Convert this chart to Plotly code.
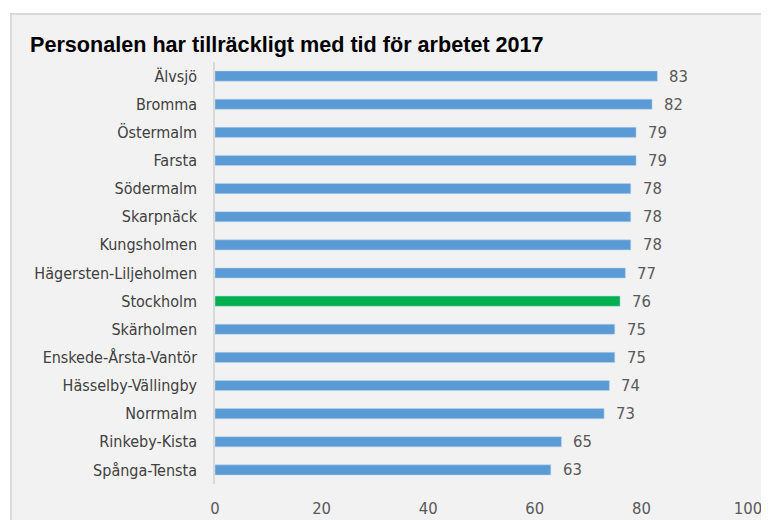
import plotly.graph_objects as go

categories = ["Älvsjö", "Bromma", "Östermalm", "Farsta", "Södermalm", "Skarpnäck",
              "Kungsholmen", "Hägersten-Liljeholmen", "Stockholm", "Skärholmen",
              "Enskede-Årsta-Vantör", "Hässelby-Vällingby", "Norrmalm", "Rinkeby-Kista",
              "Spånga-Tensta"]
values = [83, 82, 79, 79, 78, 78, 78, 77, 76, 75, 75, 74, 73, 65, 63]
highlight = "Stockholm"
x_ticks = [0, 20, 40, 60, 80, 100]
title = "Personalen har tillräckligt med tid för arbetet 2017"

FONT = "DejaVu Sans Condensed, Liberation Sans Narrow, sans-serif"
TFONT = "Liberation Sans, Arial, sans-serif"
colors = ["#00B050" if c == highlight else "#5B9BD5" for c in categories]

W, H = 761, 512
L, R, T, B = 207, 21, 54, 36
pw, ph = W - L - R, H - T - B

fig = go.Figure()
fig.add_trace(go.Bar(
    y=categories, x=values, orientation="h",
    marker=dict(color=colors, line=dict(color="#BDD7EE", width=0.5)),
    width=0.36, hoverinfo="skip",
))
for c, v in zip(categories, values):
    fig.add_annotation(x=v, y=c, text=str(v), showarrow=False, xanchor="left",
                       xshift=10, font=dict(family=FONT, size=16.5, color="#595959"))

fig.add_shape(type="rect", xref="paper", yref="paper",
              x0=(3 - L) / pw, x1=1.2, y0=-0.5, y1=(H - 6 - B) / ph,
              fillcolor="#F2F2F2", line=dict(color="#D9D9D9", width=2), layer="below")

fig.update_layout(
    width=W, height=H,
    margin=dict(l=L, r=R, t=T, b=B, autoexpand=False),
    paper_bgcolor="white", plot_bgcolor="white",
    showlegend=False,
    title=dict(text="<b>" + title + "</b>", x=22 / W, xanchor="left", y=1 - 36 / H, yanchor="middle",
               font=dict(family=TFONT, size=21.6, color="#000000")),
    xaxis=dict(range=[0, 100], tickvals=x_ticks, showgrid=False, zeroline=False, automargin=False,
               tickfont=dict(family=FONT, size=16.5, color="#595959"), ticks="", ticklabelstandoff=12,
               fixedrange=True),
    yaxis=dict(range=[len(categories) - 0.5, -0.5], showline=True, linecolor="#D9D9D9", linewidth=1.5,
               tickfont=dict(family=FONT, size=16, color="#404040"), ticks="", automargin=False,
               ticklabelstandoff=13, fixedrange=True),
)
fig.write_html("out.html")
